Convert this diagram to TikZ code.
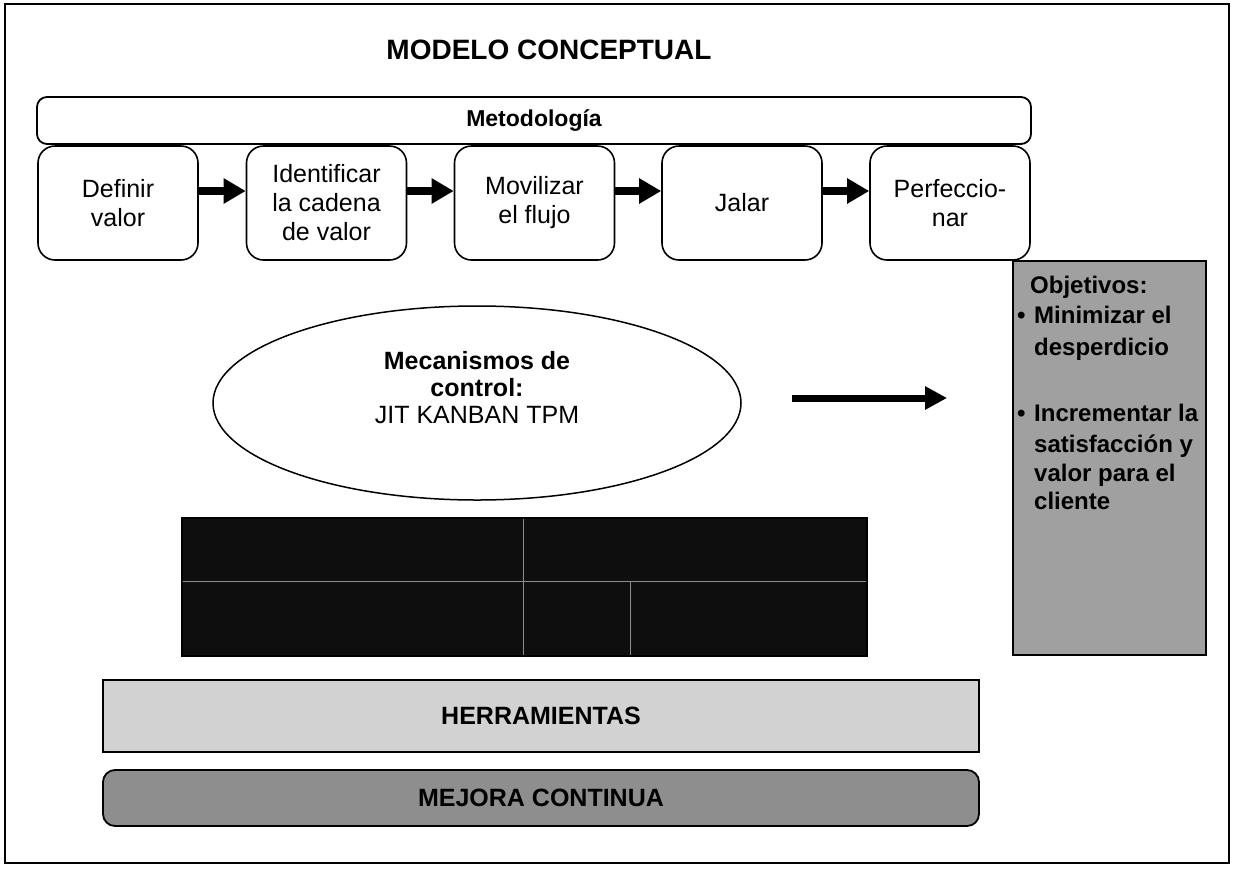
\documentclass[tikz,border=0pt]{standalone}
\usepackage{fontspec}
\setmainfont{Liberation Sans}
\usetikzlibrary{arrows.meta,shapes.geometric}

\definecolor{objgray}{HTML}{A0A0A0}
\definecolor{toolgray}{HTML}{D2D2D2}
\definecolor{mejgray}{HTML}{8E8E8E}
\definecolor{sysdark}{HTML}{0E0E0E}

\tikzset{
  frame/.style={draw, line width=2.5pt},
  headbar/.style={draw, line width=1.8pt, rounded corners=10pt, minimum width=994pt, minimum height=47pt, inner sep=0pt},
  stepbox/.style={draw, line width=1.6pt, rounded corners=17pt, minimum width=160pt, minimum height=114pt, inner sep=0pt, align=center, font=\fontsize{25}{29}\selectfont},
  fat/.style={line width=8pt, -{Triangle[length=22pt,width=24pt]}},
  oval/.style={draw, ellipse, line width=1.5pt, minimum width=528pt, minimum height=194pt, inner sep=0pt},
  objbox/.style={draw, line width=1.8pt, fill=objgray, minimum width=193pt, minimum height=394pt, inner sep=0pt},
  objtxt/.style={anchor=base west, inner sep=0pt, font=\bfseries\fontsize{24}{30}\selectfont},
  darkbox/.style={draw, line width=1.5pt, fill=sysdark, minimum width=685pt, minimum height=138pt, inner sep=0pt},
  divider/.style={draw=black!45, line width=1pt},
  toolbar/.style={draw, line width=1.8pt, fill=toolgray, minimum width=876pt, minimum height=72pt, inner sep=0pt, font=\bfseries\fontsize{25}{29}\selectfont},
  mejbar/.style={draw, line width=1.8pt, fill=mejgray, rounded corners=12pt, minimum width=876pt, minimum height=56pt, inner sep=0pt, font=\bfseries\fontsize{25}{29}\selectfont},
}

\begin{document}
\begin{tikzpicture}[x=1pt, y=-1pt]
  \useasboundingbox (0,0) rectangle (1234,868);
  % outer frame
  \draw[frame] (5,4) rectangle (1229,863);

  % title
  \node[font=\bfseries\fontsize{28}{32}\selectfont] (title) at (549,50) {MODELO CONCEPTUAL};

  % methodology header and its five steps
  \node[headbar, font=\bfseries\fontsize{23}{27}\selectfont] (met) at (534,120.5) {Metodología};
  \node[stepbox] (s1) at (118,203) {Definir\\valor};
  \node[stepbox] (s2) at (326.5,203) {Identificar\\la cadena\\de valor};
  \node[stepbox] (s3) at (534.5,203) {Movilizar\\el flujo};
  \node[stepbox] (s4) at (742,203) {Jalar};
  \node[stepbox] (s5) at (950,203) {Perfeccio-\\nar};
  \foreach \a/\b in {s1/s2,s2/s3,s3/s4,s4/s5}
    \draw[fat] ([yshift=12pt]\a.east) -- ([yshift=12pt]\b.west);

  % control mechanisms
  \node[oval] (mec) at (477,403) {};
  \node[align=center, font=\fontsize{25}{27}\selectfont] (mectxt) at (477,388)
    {\textbf{Mecanismos de}\\\textbf{control:}\\JIT KANBAN TPM};

  % objectives
  \node[objbox] (obj) at (1109.5,458) {};
  \coordinate (arrstart) at (792,398);
  \draw[line width=7pt, -{Triangle[length=22pt,width=22pt]}] (arrstart) -- ([xshift=-65pt]obj.west |- arrstart);
  \node[objtxt] (o0) at (1030,293) {Objetivos:};
  \node[objtxt] (b1) at (1017,323) {•};
  \node[objtxt] (o1) at (1034,323) {Minimizar el};
  \node[objtxt] (o2) at (1034,355) {desperdicio};
  \node[objtxt] (b2) at (1017,421) {•};
  \node[objtxt] (o3) at (1034,421) {Incrementar la};
  \node[objtxt] (o4) at (1034,452) {satisfacción y};
  \node[objtxt] (o5) at (1034,481) {valor para el};
  \node[objtxt] (o6) at (1034,509) {cliente};

  % production system block
  \node[darkbox] (sys) at (524.5,587) {};
  \draw[divider] (523,519) -- (523,655);
  \draw[divider] (183,581) -- (866,581);
  \draw[divider] (630,581) -- (630,655);

  % tools and continuous improvement
  \node[toolbar] (herr) at (541,716) {HERRAMIENTAS};
  \node[mejbar] (mej) at (541,798) {MEJORA CONTINUA};
\end{tikzpicture}
\end{document}
